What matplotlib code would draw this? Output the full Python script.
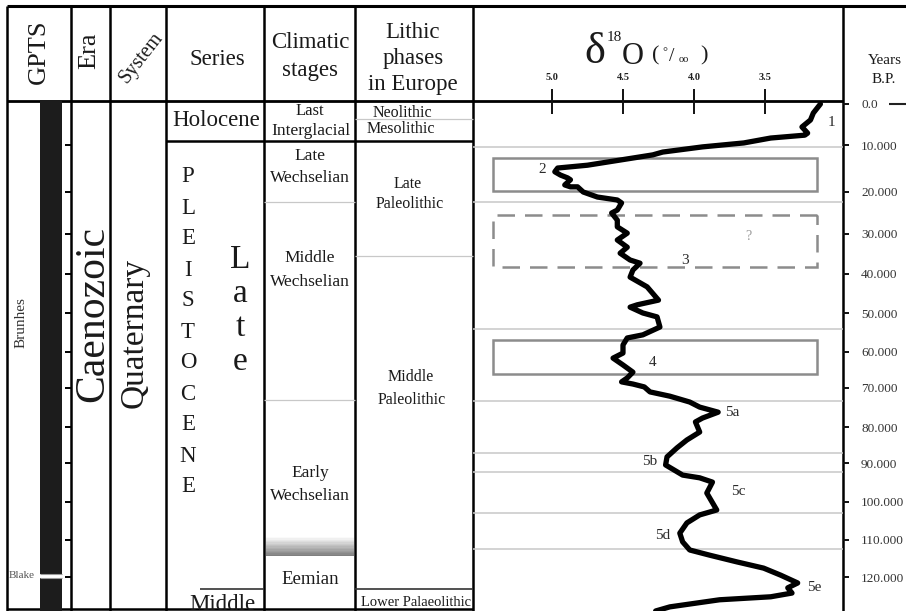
#!/usr/bin/env python3
"""
Late Pleistocene chronostratigraphic chart with the marine delta-18O
record (isotope stages 1 to 5e) plotted against age in years B.P.
"""

import numpy as np
import matplotlib
matplotlib.use('Agg')  # no display
import matplotlib.pyplot as plt
from matplotlib.patches import Rectangle

plt.rcParams['font.family'] = ['Liberation Serif', 'DejaVu Serif']

# ---------------------------------------------------------------- data
# delta-18O (per mil) and age (ka), top to bottom
d18o = [3.11, 3.16, 3.18, 3.24, 3.20, 3.22, 3.46, 3.65, 3.94, 4.22,
        4.29, 4.52, 4.75, 4.96, 4.98, 4.94, 4.89, 4.87, 4.91, 4.87,
        4.82, 4.78, 4.68, 4.54, 4.51, 4.54, 4.58, 4.54, 4.54, 4.47,
        4.54, 4.47, 4.52, 4.45, 4.38, 4.43, 4.45, 4.33, 4.25, 4.40,
        4.45, 4.36, 4.26, 4.24, 4.36, 4.47, 4.50, 4.50, 4.57, 4.50,
        4.43, 4.47, 4.51, 4.43, 4.35, 4.31, 4.17, 4.03, 3.96, 3.83,
        3.94, 3.99, 3.96, 4.05, 4.12, 4.19, 4.20, 4.08, 3.96, 3.87,
        3.91, 3.84, 3.96, 4.05, 4.10, 4.08, 4.03, 3.89, 3.70, 3.51,
        3.39, 3.27, 3.34, 3.31, 3.46, 3.82, 4.17, 4.27]
age_ka = [0.0, 2.2, 3.9, 5.6, 7.1, 7.6, 8.3, 9.5, 10.4, 11.5,
          12.1, 13.2, 14.3, 14.9, 15.7, 16.4, 17.0, 17.4, 18.5, 18.9,
          18.9, 20.0, 21.2, 21.9, 22.6, 24.3, 25.0, 26.7, 28.3, 29.8,
          31.5, 33.3, 34.8, 36.5, 37.3, 39.0, 40.8, 43.3, 46.7, 47.9,
          48.5, 50.0, 51.0, 53.6, 55.6, 56.4, 58.2, 60.3, 61.7, 63.6,
          65.6, 67.2, 68.3, 68.9, 69.7, 71.0, 72.1, 73.6, 74.9, 76.2,
          77.7, 78.7, 81.4, 83.6, 85.8, 88.3, 90.5, 93.1, 93.8, 94.9,
          97.7, 102.1, 103.4, 105.5, 108.2, 110.5, 112.7, 114.1, 115.9, 117.6,
          119.5, 121.6, 122.9, 124.3, 125.3, 126.1, 128.0, 129.1]
assert len(d18o) == len(age_ka)

age_ticks = list(range(0, 130, 10))
age_labels = ['0.0'] + [f'{t}.000' for t in age_ticks[1:]]
d18o_ticks = [5.0, 4.5, 4.0, 3.5]
d18o_range = (5.556, 2.951)

# isotope stage boxes
box_top_ka = [12.8, 25.5, 56.9]
box_bottom_ka = [19.8, 38.3, 66.1]
box_dashed = [False, True, False]
box_d18o = (5.415, 3.134)

mis_labels = ['1', '2', '3', '4', '5a', '5b', '5c', '5d', '5e']
mis_label_d18o = [3.03, 5.07, 4.06, 4.29, 3.73, 4.31, 3.69, 4.22, 3.15]
mis_label_ka = [4.6, 15.3, 36.5, 62.8, 76.4, 89.7, 97.4, 108.7, 122.9]

# boundaries (ka)
iso_lines_ka = [10.4, 22.4, 54.1, 73.3, 87.2, 92.3, 102.9, 112.4]
holocene_base_ka = 9.0
neo_meso_ka = 3.7
climatic_lines_ka = [22.4, 73.1]
eemian_fade_ka = (109.2, 114.3)
late_middle_paleo_ka = 35.5
lower_paleo_ka = 123.2
normal_polarity_ka = [(-5.0, 119.3), (120.3, 135.0)]
blake_ka = [119.3, 120.3]

# the original age axis is drawn unevenly: ka -> pixel row calibration
cal_ka = [-5, 0, 10, 20, 30, 40, 50, 60, 70, 80, 90, 100, 110, 120, 135]
cal_px = [84, 104, 145, 192, 234, 274, 313, 352, 388, 427, 463, 502, 540, 577, 633]


def fwd(k):
    return np.interp(k, cal_ka, cal_px)


def inv(p):
    return np.interp(p, cal_px, cal_ka)


# -------------------------------------------------------------- layout
W, H = 906, 611
TOP, HEAD = 6, 101
cols = [7, 71, 110, 166, 264, 355, 473, 843]
INK = '#1a1a1a'
GREY_LINE = '#c8c8c8'

fig = plt.figure(figsize=(W / 100, H / 100), dpi=100)
fig.patch.set_facecolor('white')

canvas = fig.add_axes([0, 0, 1, 1])
canvas.set_xlim(0, W)
canvas.set_ylim(H, 0)
canvas.axis('off')

body = fig.add_axes([0, 0, 1, (H - HEAD) / H])
body.set_xlim(0, W)
body.set_yscale('function', functions=(fwd, inv))
body.set_ylim(inv(H), inv(HEAD))
body.axis('off')

iso = fig.add_axes([cols[6] / W, 0, (cols[7] - cols[6]) / W, (H - HEAD) / H])
iso.set_facecolor('none')
iso.set_yscale('function', functions=(fwd, inv))
iso.set_xlim(*d18o_range)
iso.set_ylim(inv(H), inv(HEAD))


def txt(x, y, s, size, **kw):
    kw.setdefault('ha', 'center')
    kw.setdefault('va', 'center')
    kw.setdefault('color', INK)
    return canvas.text(x, y, s, fontsize=size, **kw)


# ---- frame
canvas.hlines(TOP, cols[0], W, color='k', lw=2.2)
canvas.hlines(HEAD, cols[0], cols[7], color='k', lw=2.0)
canvas.vlines(cols, TOP, H, color='k', lw=1.8)
canvas.hlines(609, cols[0], cols[6], color='k', lw=1.8)
canvas.hlines(104, 889, W, color='#222', lw=1.5)

# ---- header
txt(39, 52, 'GPTS', 19, rotation=90)
txt(89, 51, 'Era', 19, rotation=90)
txt(141, 58, 'System', 14.5, rotation=52)
txt(217, 65, 'Series', 16.5, va='baseline')
txt(310, 48, 'Climatic', 16.5, va='baseline')
txt(310, 76, 'stages', 16.5, va='baseline')
txt(413, 38, 'Lithic', 16.5, va='baseline')
txt(413, 64, 'phases', 16.5, va='baseline')
txt(413, 90, 'in Europe', 16.5, va='baseline')

txt(584, 63, '\u03b4', 32, ha='left', va='baseline')
txt(607, 41, '18', 11, ha='left', va='baseline')
txt(622, 64, 'O', 22, ha='left', va='baseline')
txt(652, 60, '(', 16, ha='left', va='baseline')
txt(662, 55, '\u00b0', 9, ha='left', va='baseline')
txt(669, 61, '/', 14, ha='left', va='baseline')
txt(679, 62, 'oo', 7.5, ha='left', va='baseline')
txt(700, 60, ')', 16, ha='left', va='baseline')

txt(885, 64, 'Years', 11, va='baseline')
txt(884, 83, 'B.P.', 11, va='baseline')

# ---- GPTS column
for a, b in normal_polarity_ka:
    body.add_patch(Rectangle((40, a), 22, b - a, color='#1c1c1c', lw=0))
body.hlines(blake_ka, 40, 62, color='#9a9a9a', lw=0.8)
body.hlines(age_ticks[1:], 65, cols[1], color='k', lw=1.4)
txt(21, 323, 'Brunhes', 11, rotation=90, color='#333')
txt(9, 576, 'Blake', 8, ha='left', color='#555')

# ---- era / system
txt(93, 314, 'Caenozoic', 30, rotation=90)
txt(134, 333, 'Quaternary', 24, rotation=90)

# ---- series
body.hlines(holocene_base_ka, cols[3], cols[6], color='k', lw=1.8)
body.hlines(lower_paleo_ka, 200, cols[4], color='#333', lw=1.2)
txt(216, 126, 'Holocene', 16.5, va='baseline')
for i, ch in enumerate('PLEISTOCENE'):
    txt(188, 177 + 31 * i, ch, 16.5)
for ch, y in zip('Late', [260, 294, 328, 362]):
    txt(240, y, ch, 24)
# cut by the bottom frame, as in the original
mid = txt(222, 610, 'Middle', 16.5, va='baseline')
mid.set_clip_path(Rectangle((0, 0), W, 609, transform=canvas.transData))

# ---- climatic stages
body.hlines(climatic_lines_ka, cols[4], cols[5], color=GREY_LINE, lw=0.9)
n = 14
edges = np.linspace(eemian_fade_ka[0], eemian_fade_ka[1], n + 1)
levels = np.linspace(0.98, 0.5, n)
for i in range(n):
    body.fill_between([cols[4] + 1.5, cols[5] - 1.5], edges[i], edges[i + 1] + 0.05,
                      color=str(levels[i]), lw=0)
txt(310, 111, 'Last', 12)
txt(311, 131, 'Interglacial', 12.5)
txt(310, 156, 'Late', 12.5)
txt(310, 178, 'Wechselian', 12.5)
txt(310, 258, 'Middle', 12.5)
txt(310, 282, 'Wechselian', 12.5)
txt(310, 473, 'Early', 12.5)
txt(310, 496, 'Wechselian', 12.5)
txt(310, 580, 'Eemian', 13.5)

# ---- lithic phases
body.hlines([neo_meso_ka, late_middle_paleo_ka], cols[5], cols[6], color=GREY_LINE, lw=0.9)
body.hlines(lower_paleo_ka, cols[5], cols[6], color='#333', lw=1.2)
txt(402, 113, 'Neolithic', 11.5)
txt(401, 129, 'Mesolithic', 11.5)
txt(408, 184, 'Late', 11.5)
txt(410, 204, 'Paleolithic', 11.5)
txt(411, 377, 'Middle', 11.5)
txt(412, 400, 'Paleolithic', 11.5)
txt(416, 603, 'Lower Palaeolithic', 10.5)

# ---- isotope panel
for k in iso_lines_ka:
    iso.axhline(k, color=GREY_LINE, lw=1.1, zorder=1)
for top, bot, dashed in zip(box_top_ka, box_bottom_ka, box_dashed):
    iso.add_patch(Rectangle((box_d18o[1], top), box_d18o[0] - box_d18o[1], bot - top,
                            fill=False, ec='#8c8c8c', lw=1.8, zorder=2,
                            ls=(0, (7, 4)) if dashed else '-'))
iso.plot(d18o, age_ka, color='black', lw=3.8, solid_joinstyle='round',
         solid_capstyle='round', zorder=3)
for s, x, y in zip(mis_labels, mis_label_d18o, mis_label_ka):
    iso.text(x, y, s, fontsize=11, ha='center', va='center', color='#2a2a2a', zorder=4)
iso.text(3.62, 30.75, '?', fontsize=10, ha='center', va='center', color='#999')

iso.xaxis.tick_top()
iso.set_xticks(d18o_ticks)
iso.set_xticklabels([f'{v:.1f}' for v in d18o_ticks], fontsize=7.5, fontweight='bold')
iso.tick_params(axis='x', direction='inout', length=18, width=1.4, pad=4.5,
                color='#111', labelcolor='#222')
iso.yaxis.tick_right()
iso.set_yticks(age_ticks)
iso.set_yticklabels(age_labels, fontsize=9.5)
iso.tick_params(axis='y', direction='out', length=4.5, width=1.4, pad=8.5,
                color='#111', labelcolor='#333')
for sp in iso.spines.values():
    sp.set_visible(False)

fig.savefig('out.png', dpi=100)
